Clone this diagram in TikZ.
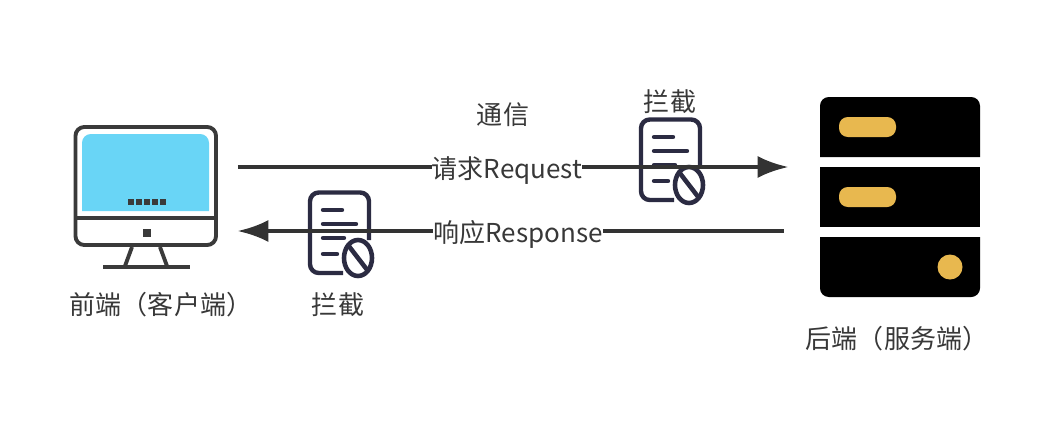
\documentclass[tikz,border=0pt]{standalone}
\usepackage{fontspec}
\setmainfont{Noto Sans CJK SC}[Scale=1]
\usetikzlibrary{positioning,arrows.meta}
\definecolor{iconink}{HTML}{2B2B42}
\definecolor{frameink}{HTML}{3A3A3A}
\definecolor{screenblue}{HTML}{69D5F6}
\definecolor{ledyellow}{HTML}{E8B84F}
\definecolor{wireink}{HTML}{333333}
\tikzset{
  every node/.append style={inner sep=0pt},
  lab/.style={font=\fontsize{14.8}{17}\selectfont,text=black!78},
  wirelab/.style={lab,fill=white},
  wire/.style={draw=wireink,line width=2.3pt},
  tip/.style={-{Latex[length=17.6pt,width=12.6pt,sharp]}},
  rack/.style={fill=black},
  led/.style={fill=ledyellow},
  blockeddoc/.pic={
    \draw [iconink,line width=2.5pt,rounded corners=5pt] (6,-4.9) -- (6,-0.15) -- (0.1,-0.15) -- (0.1,-8.2) -- (3.4,-8.2);
    \draw [iconink,line width=2.5pt,line cap=round] (1.4,-1.9) -- (3.3,-1.9);
    \draw [iconink,line width=2.5pt,line cap=round] (1.4,-3.3) -- (4.7,-3.3);
    \draw [iconink,line width=2.5pt,line cap=round] (1.4,-4.7) -- (3.5,-4.7);
    \draw [iconink,line width=2.5pt,line cap=round] (1.4,-6.3) -- (2.8,-6.3);
    \draw [iconink,line width=2.6pt] (4.9,-6.7) ellipse [x radius=1.4,y radius=1.8];
    \draw [iconink,line width=2.6pt] (3.9,-5.4) -- (5.9,-8);
  }
}
\begin{document}
\begin{tikzpicture}[scale=0.2]
\useasboundingbox (0,0) rectangle (105.9,-44.6);
\fill [screenblue] (8.2,-21.1) [rounded corners=5pt] -- (8.2,-13.4) -- (20.9,-13.4) -- (20.9,-16) [sharp corners] -- (20.9,-21.1) -- cycle;
\draw [frameink,line width=2.2pt,rounded corners=5pt] (7.55,-12.7) rectangle (21.6,-24.5);
\draw [frameink,line width=2.2pt] (7.55,-21.8) -- (21.6,-21.8);
\fill [frameink] (14.3,-22.9) rectangle (15.1,-23.7);
\foreach \dotx in {12.8,13.6,14.4,15.2,16} {
  \fill [frameink] (\dotx,-19.9) rectangle +(0.55,-0.55);
}
\draw [frameink,line width=2.2pt] (13.2,-24.7) -- (12.5,-26.6);
\draw [frameink,line width=2.2pt] (16,-24.7) -- (16.7,-26.6);
\draw [frameink,line width=1.9pt] (10.3,-26.7) -- (19,-26.7);
\node [lab] (client) at (16.1,-30.5) {前端（客户端）};
\fill [rack] (82,-15.7) [rounded corners=5pt] -- (82,-9.7) -- (98,-9.7) -- (98,-12) [sharp corners] -- (98,-15.7) -- cycle;
\fill [rack] (82,-16.7) rectangle (98,-22.7);
\fill [rack] (82,-23.7) [rounded corners=5pt] -- (82,-29.7) -- (98,-29.7) -- (98,-27) [sharp corners] -- (98,-23.7) -- cycle;
\fill [led,rounded corners=5pt] (83.9,-11.7) rectangle (89.6,-13.7);
\fill [led,rounded corners=5pt] (83.9,-18.7) rectangle (89.6,-20.7);
\fill [led] (95,-26.7) circle (1.25);
\node [lab] (server) at (89.7,-33.9) {后端（服务端）};
\pic [transform shape] at (30.9,-19.1) {blockeddoc};
\pic [transform shape] at (64,-11.8) {blockeddoc};
\node [lab] (blockleft) at (33.8,-30.5) {拦截};
\node [lab] (blockright) at (67,-10.2) {拦截};
\node [lab] (comm) at (50.3,-11.5) {通信};
\coordinate (reqstart) at (23.8,-16.7);
\coordinate (reqend) at (78.85,-16.7);
\coordinate (respstart) at (78.4,-23.1);
\coordinate (respend) at (23.75,-23.1);
\draw [wire,tip] (reqstart) -- (reqend);
\draw [wire,tip] (respstart) -- (respend);
\node [wirelab] (req) at (50.7,-17.05) {请求Request};
\node [wirelab] (resp) at (51.8,-23.45) {响应Response};
\end{tikzpicture}
\end{document}
